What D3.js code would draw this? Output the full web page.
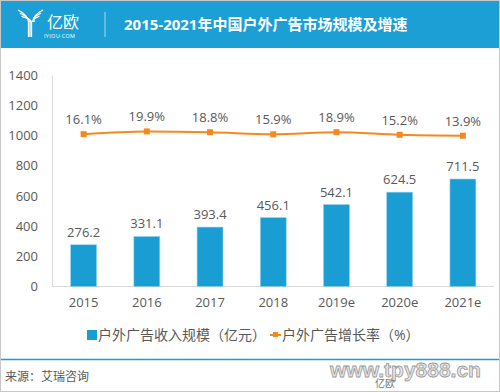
<!DOCTYPE html>
<html><head><meta charset="utf-8">
<script src="https://cdn.jsdelivr.net/npm/d3@7"></script>
<style>
body{margin:0;padding:0;background:#fff;}
svg{display:block;font-family:"Open Sans","Noto Sans CJK SC",sans-serif;}
</style></head>
<body>
<script>
const categories = ["2015","2016","2017","2018","2019e","2020e","2021e"];
const revenue = [276.2,331.1,393.4,456.1,542.1,624.5,711.5];
const growth = [16.1,19.9,18.8,15.9,18.9,15.2,13.9];
const yTicks = [0,200,400,600,800,1000,1200,1400];
const title = "2015-2021年中国户外广告市场规模及增速";
const legendLabels = ["户外广告收入规模（亿元）","户外广告增长率（%）"];
const source = "来源：艾瑞咨询";

const W = 500, H = 392;
const blue = "#1a9dd2", orange = "#f5891f", txt = "#595959", axisC = "#d9d9d9";
const svg = d3.select("body").append("svg").attr("width", W).attr("height", H);

// header
svg.append("rect").attr("x",0).attr("y",0).attr("width",W).attr("height",48).attr("fill","#1c9fd4");
// logo
const logo = svg.append("g").attr("fill","none").attr("stroke","#fff").attr("stroke-width",1.3);
[0,3,6].forEach(o=>{
  logo.append("path").attr("d",`M${18+o*0.6},${10+o} C${24+o*0.3},${13+o} ${28+o*0.2},${17} ${28.5+o*0.5},${22} L${28.5+o*0.5},37`);
  logo.append("path").attr("d",`M${43-o*0.6},${10+o} C${37-o*0.3},${13+o} ${33},${17} ${32.5+o*0.3},${22}`);
});
svg.append("text").attr("x",47).attr("y",28).attr("fill","#fff").attr("font-size",16).attr("font-family","Noto Sans CJK SC").text("亿欧");
svg.append("text").attr("x",44).attr("y",37.5).attr("fill","#fff").attr("font-size",5.5).attr("letter-spacing",0.3).text("IYIOU·COM");
svg.append("line").attr("x1",105).attr("x2",105).attr("y1",12).attr("y2",37).attr("stroke","#8fd0ec").attr("stroke-width",1.2);
svg.append("text").attr("x",124).attr("y",29.5).attr("fill","#fff").attr("font-size",15).attr("font-weight","bold").text(title);

// outer border
svg.append("rect").attr("x",0.5).attr("y",0.5).attr("width",W-1).attr("height",H-1).attr("fill","none").attr("stroke","#c8c8c8");

// scales
const x = d3.scaleBand().domain(categories).range([52,494.5]).paddingInner(0.59).paddingOuter(0.295);
const y = d3.scaleLinear().domain([0,1400]).range([286.5,75]);
const y2 = d3.scaleLinear().domain([0,20]).range([y(932), y(1027)]);

// axes
const yAxis = svg.append("g").attr("transform","translate(52,0)")
  .call(d3.axisLeft(y).tickValues(yTicks).tickFormat(d3.format("d")).tickSize(0).tickPadding(14));
yAxis.select(".domain").attr("stroke",axisC);
yAxis.selectAll("text").attr("fill",txt).attr("font-size",13).attr("font-family","Open Sans");
const xAxis = svg.append("g").attr("transform","translate(0,286.5)").call(d3.axisBottom(x).tickSize(0).tickPadding(11));
xAxis.select(".domain").attr("stroke",axisC).attr("d","M52,0H494");
xAxis.selectAll("text").attr("fill",txt).attr("font-size",13).attr("font-family","Open Sans");

// bars
svg.selectAll(".bar").data(revenue).join("rect")
  .attr("x",(d,i)=>x(categories[i])).attr("width",x.bandwidth())
  .attr("y",d=>y(d)).attr("height",d=>y(0)-y(d)).attr("fill",blue)
  .attr("stroke","#8fd3f0").attr("stroke-width",0.6);
svg.selectAll(".blab").data(revenue).join("text")
  .attr("x",(d,i)=>x(categories[i])+x.bandwidth()/2).attr("y",d=>y(d)-8)
  .attr("text-anchor","middle").attr("fill",txt).attr("font-size",13).text(d=>d.toFixed(1));

// line
const cx = i => x(categories[i])+x.bandwidth()/2;
svg.append("path").datum(growth)
  .attr("d",d3.line().x((d,i)=>cx(i)).y(d=>y2(d)).curve(d3.curveMonotoneX))
  .attr("fill","none").attr("stroke",orange).attr("stroke-width",2);
svg.selectAll(".pt").data(growth).join("rect")
  .attr("x",(d,i)=>cx(i)-3).attr("y",d=>y2(d)-3).attr("width",6).attr("height",6).attr("fill",orange);
svg.selectAll(".plab").data(growth).join("text")
  .attr("x",(d,i)=>cx(i)).attr("y",d=>y2(d)-10)
  .attr("text-anchor","middle").attr("fill",txt).attr("font-size",13).text(d=>d.toFixed(1)+"%");

// legend
svg.append("rect").attr("x",87).attr("y",330).attr("width",10).attr("height",10).attr("fill",blue);
svg.append("text").attr("x",98).attr("y",340).attr("fill",txt).attr("font-size",14).text(legendLabels[0]);
svg.append("line").attr("x1",270).attr("x2",281).attr("y1",335).attr("y2",335).attr("stroke",orange).attr("stroke-width",2);
svg.append("rect").attr("x",273).attr("y",332).attr("width",5).attr("height",5).attr("fill",orange);
svg.append("text").attr("x",282).attr("y",340).attr("fill",txt).attr("font-size",14).text(legendLabels[1]);

// footer
svg.append("line").attr("x1",1).attr("x2",W-1).attr("y1",359.5).attr("y2",359.5).attr("stroke",blue).attr("stroke-width",1.5);
svg.append("text").attr("x",5).attr("y",381).attr("fill",txt).attr("font-size",12).text(source);
svg.append("text").attr("x",330).attr("y",377).attr("fill","#e4e4e4").attr("stroke","#9a9a9a").attr("stroke-width",0.8)
  .attr("font-size",21).attr("font-weight","bold").attr("font-family","Liberation Sans").text("www.tpy888.cn");
svg.append("text").attr("x",375).attr("y",387).attr("fill","#777").attr("font-size",10).text("亿欧");
</script>
</body></html>
